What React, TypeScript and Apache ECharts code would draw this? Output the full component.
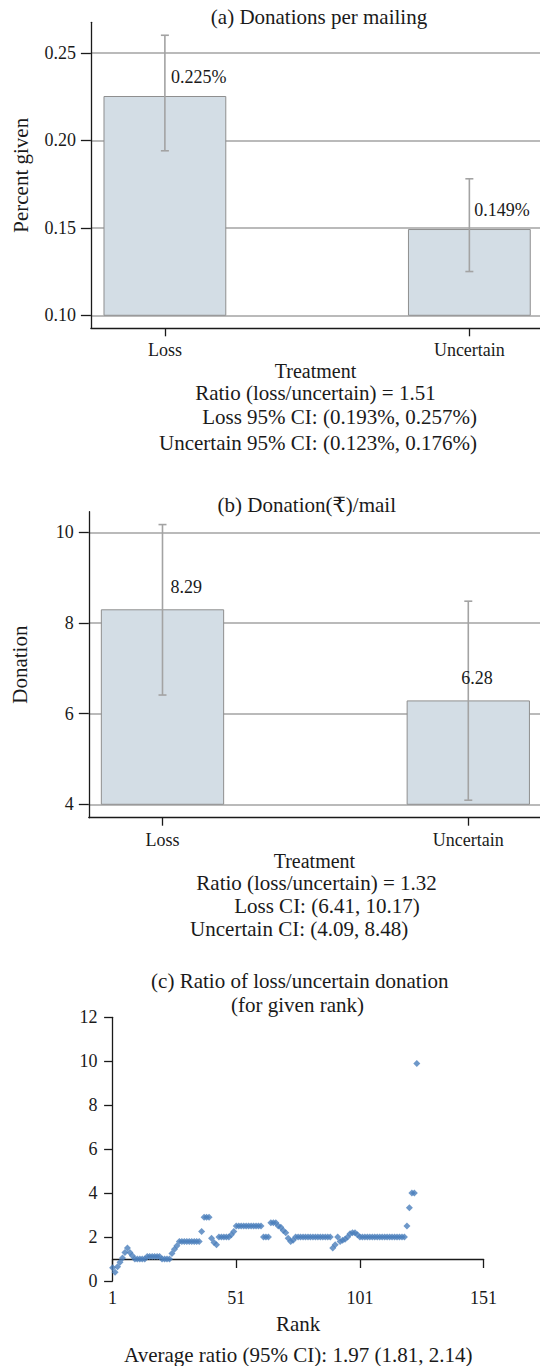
import React, { useEffect, useRef } from 'react';
import * as echarts from 'echarts';

// ---------- data ----------
const treatments = ['Loss', 'Uncertain'];

const percentGiven = [0.225, 0.149];
const percentErrLow = [0.194, 0.125];
const percentErrHigh = [0.26, 0.178];
const percentLabels = ['0.225%', '0.149%'];
const percentTicks = [0.1, 0.15, 0.2, 0.25];
const percentBase = 0.1;

const donation = [8.29, 6.28];
const donationErrLow = [6.41, 4.09];
const donationErrHigh = [10.17, 8.48];
const donationLabels = ['8.29', '6.28'];
const donationTicks = [4, 6, 8, 10];
const donationBase = 4;

const rankTicks = [1, 51, 101, 151];
const rankRatio = [
  0.6, 0.4, 0.65, 0.85, 1.05, 1.3, 1.5, 1.3, 1.15, 1.0,
  1.0, 1.0, 1.0, 1.0, 1.12, 1.12, 1.12, 1.12, 1.12, 1.12,
  1.0, 1.0, 1.0, 1.0, 1.25, 1.45, 1.6, 1.8, 1.8, 1.8,
  1.8, 1.8, 1.8, 1.8, 1.8, 1.8, 2.25, 2.9, 2.9, 2.9,
  1.95, 1.75, 1.65, 2.0, 2.0, 2.0, 2.0, 2.0, 2.1, 2.25,
  2.5, 2.5, 2.5, 2.5, 2.5, 2.5, 2.5, 2.5, 2.5, 2.5,
  2.5, 2.0, 2.0, 2.0, 2.65, 2.65, 2.65, 2.5, 2.45, 2.3,
  2.2, 1.95, 1.8, 1.85, 2.0, 2.0, 2.0, 2.0, 2.0, 2.0,
  2.0, 2.0, 2.0, 2.0, 2.0, 2.0, 2.0, 2.0, 2.0, 1.5,
  1.65, 2.0, 1.8, 1.85, 1.9, 2.0, 2.15, 2.2, 2.2, 2.1,
  2.0, 2.0, 2.0, 2.0, 2.0, 2.0, 2.0, 2.0, 2.0, 2.0,
  2.0, 2.0, 2.0, 2.0, 2.0, 2.0, 2.0, 2.0, 2.0, 2.5,
  3.33, 4.0, 4.0, 9.9,
];

const titleA = '(a) Donations per mailing';
const notesA = [
  'Ratio (loss/uncertain) = 1.51',
  'Loss 95% CI: (0.193%, 0.257%)',
  'Uncertain 95% CI: (0.123%, 0.176%)',
];
const titleB = '(b) Donation(₹)/mail';
const notesB = [
  'Ratio (loss/uncertain) = 1.32',
  'Loss CI: (6.41, 10.17)',
  'Uncertain CI: (4.09, 8.48)',
];
const titleC = ['(c) Ratio of loss/uncertain donation', '(for given rank)'];
const noteC = 'Average ratio (95% CI): 1.97 (1.81, 2.14)';

// ---------- style ----------
const FONT = '"Liberation Serif", "Times New Roman", "DejaVu Serif", serif';
const TEXT = '#1a1a1a';
const AXIS = { color: '#1a1a1a', width: 1.3 };
const GRIDLINE = { color: '#a3a3a3', width: 1.5 };
const BAR_FILL = '#d3dde5';
const BAR_STROKE = '#8f8f8f';
const ERR = '#a3a3a3';
const POINT = '#4a7ebb';

const txt = (text: string, x: number, y: number, size: number, align: string) => ({
  type: 'text',
  x,
  y,
  silent: true,
  style: {
    text,
    fill: TEXT,
    fontSize: size,
    fontFamily: FONT,
    align,
    textAlign: align,
    verticalAlign: 'middle',
    textVerticalAlign: 'middle',
  },
});

const makeBarRender = (base: number, labels: string[], labelDx: number[], labelDy: number) =>
  (params: any, api: any) => {
    const i = params.dataIndex;
    const x = api.value(0);
    const top = api.coord([x, api.value(1)]);
    const bot = api.coord([x, base]);
    const eLo = api.coord([x, api.value(2)]);
    const eHi = api.coord([x, api.value(3)]);
    const w = api.size([0.4, 0])[0];
    const cap = 4;
    const errStyle = { stroke: ERR, lineWidth: 1.6 };
    return {
      type: 'group',
      children: [
        {
          type: 'rect',
          shape: { x: top[0] - w / 2, y: top[1], width: w, height: bot[1] - top[1] },
          style: { fill: BAR_FILL, stroke: BAR_STROKE, lineWidth: 1 },
        },
        { type: 'line', shape: { x1: eLo[0], y1: eLo[1], x2: eHi[0], y2: eHi[1] }, style: errStyle },
        { type: 'line', shape: { x1: eHi[0] - cap, y1: eHi[1], x2: eHi[0] + cap, y2: eHi[1] }, style: errStyle },
        { type: 'line', shape: { x1: eLo[0] - cap, y1: eLo[1], x2: eLo[0] + cap, y2: eLo[1] }, style: errStyle },
        {
          type: 'text',
          x: top[0] + labelDx[i],
          y: top[1] - labelDy,
          style: {
            text: labels[i],
            fill: TEXT,
            fontSize: 18,
            fontFamily: FONT,
            align: 'left',
            textAlign: 'left',
            verticalAlign: 'middle',
            textVerticalAlign: 'middle',
          },
        },
      ],
    };
  };

const catPositions = treatments.map((_, i) => i + 1);

const NAME_STYLE = { color: TEXT, fontSize: 21, fontFamily: FONT };
const XNAME_STYLE = { color: TEXT, fontSize: 20, fontFamily: FONT };

const valueAxisCommon = (extra: any) => ({
  type: 'value',
  axisLine: { show: true, onZero: false, lineStyle: AXIS },
  axisTick: { show: true, lineStyle: AXIS },
  axisLabel: { color: TEXT, fontSize: 18, fontFamily: FONT },
  nameTextStyle: NAME_STYLE,
  splitLine: { show: false },
  ...extra,
});

const gridCHeight = 263.7;

function buildOption(): any {
  return {
    animation: false,
    backgroundColor: '#ffffff',
    textStyle: { fontFamily: FONT },
    grid: [
      { left: 90.9, top: 22.3, width: 449.1, height: 306, outerBoundsMode: 'none', containLabel: false },
      { left: 88.8, top: 511.7, width: 451.2, height: 306, outerBoundsMode: 'none', containLabel: false },
      { left: 112.6, top: 1017.3, width: 371, height: gridCHeight, outerBoundsMode: 'none', containLabel: false },
    ],
    xAxis: [
      valueAxisCommon({
        gridIndex: 0,
        min: 0.757,
        max: 2.232,
        axisTick: { show: true, length: 8, lineStyle: AXIS, customValues: catPositions },
        axisLabel: {
          color: TEXT, fontSize: 18, fontFamily: FONT, margin: 13,
          customValues: catPositions,
          formatter: (v: number) => treatments[Math.round(v) - 1] || '',
        },
        name: 'Treatment',
        nameLocation: 'middle',
        nameGap: 33,
        nameTextStyle: XNAME_STYLE,
      }),
      valueAxisCommon({
        gridIndex: 1,
        min: 0.759,
        max: 2.2345,
        axisTick: { show: true, length: 8, lineStyle: AXIS, customValues: catPositions },
        axisLabel: {
          color: TEXT, fontSize: 18, fontFamily: FONT, margin: 13,
          customValues: catPositions,
          formatter: (v: number) => treatments[Math.round(v) - 1] || '',
        },
        name: 'Treatment',
        nameLocation: 'middle',
        nameGap: 33.5,
        nameTextStyle: XNAME_STYLE,
      }),
      valueAxisCommon({
        gridIndex: 2,
        min: 1,
        max: 151,
        offset: -gridCHeight / 12,
        axisTick: { show: true, length: 9, lineStyle: AXIS, customValues: rankTicks },
        axisLabel: { color: TEXT, fontSize: 18, fontFamily: FONT, margin: 30, customValues: rankTicks },
        name: 'Rank',
        nameLocation: 'middle',
        nameGap: 54,
      }),
    ],
    yAxis: [
      valueAxisCommon({
        gridIndex: 0,
        min: 0.09257,
        max: 0.2674,
        axisTick: { show: true, length: 10, lineStyle: AXIS, customValues: percentTicks },
        axisLabel: {
          color: TEXT, fontSize: 18, fontFamily: FONT, margin: 15,
          customValues: percentTicks,
          formatter: (v: number) => v.toFixed(2),
        },
        splitLine: { show: true, lineStyle: GRIDLINE },
        name: 'Percent given',
        nameLocation: 'middle',
        nameRotate: 90,
        nameGap: 59,
      }),
      valueAxisCommon({
        gridIndex: 1,
        min: 3.704,
        max: 10.454,
        axisTick: { show: true, length: 10, lineStyle: AXIS, customValues: donationTicks },
        axisLabel: {
          color: TEXT, fontSize: 18, fontFamily: FONT, margin: 15,
          customValues: donationTicks,
        },
        splitLine: { show: true, lineStyle: GRIDLINE },
        name: 'Donation',
        nameLocation: 'middle',
        nameRotate: 90,
        nameGap: 58,
      }),
      valueAxisCommon({
        gridIndex: 2,
        min: 0,
        max: 12,
        interval: 2,
        axisTick: { show: true, length: 8.5, lineStyle: AXIS },
        axisLabel: { color: TEXT, fontSize: 18, fontFamily: FONT, margin: 15 },
      }),
    ],
    series: [
      {
        type: 'custom',
        xAxisIndex: 0,
        yAxisIndex: 0,
        z: 3,
        clip: false,
        renderItem: makeBarRender(percentBase, percentLabels, [6, 5], 20),
        data: treatments.map((_, i) => [i + 1, percentGiven[i], percentErrLow[i], percentErrHigh[i]]),
        encode: { x: 0, y: [1, 2, 3] },
      },
      {
        type: 'custom',
        xAxisIndex: 1,
        yAxisIndex: 1,
        z: 3,
        clip: false,
        renderItem: makeBarRender(donationBase, donationLabels, [8, -7], 22.5),
        data: treatments.map((_, i) => [i + 1, donation[i], donationErrLow[i], donationErrHigh[i]]),
        encode: { x: 0, y: [1, 2, 3] },
      },
      {
        type: 'scatter',
        xAxisIndex: 2,
        yAxisIndex: 2,
        symbol: 'diamond',
        symbolSize: 7,
        itemStyle: { color: POINT },
        data: rankRatio.map((v, i) => [i + 1, v]),
      },
    ],
    graphic: {
      elements: [
        txt(titleA, 319, 17, 21, 'center'),
        txt(notesA[0], 195.2, 393, 21, 'left'),
        txt(notesA[1], 476.9, 417, 21, 'right'),
        txt(notesA[2], 476.9, 443.3, 21, 'right'),
        txt(titleB, 306.8, 505, 21, 'center'),
        txt(notesB[0], 196.3, 883, 21, 'left'),
        txt(notesB[1], 234.2, 906, 21, 'left'),
        txt(notesB[2], 190.1, 929, 21, 'left'),
        txt(titleC[0], 299.8, 980.7, 21, 'center'),
        txt(titleC[1], 297.5, 1005, 21, 'center'),
        txt(noteC, 298.2, 1355, 21, 'center'),
      ],
    },
  };
}

export default function App() {
  const ref = useRef<HTMLDivElement>(null);
  useEffect(() => {
    if (!ref.current) return;
    const chart = echarts.init(ref.current, undefined, { renderer: 'svg' });
    chart.setOption(buildOption());
    return () => chart.dispose();
  }, []);
  return (
    <div
      ref={ref}
      style={{ position: 'absolute', left: 0, top: 0, width: 540, height: 1366, background: '#fff' }}
    />
  );
}
